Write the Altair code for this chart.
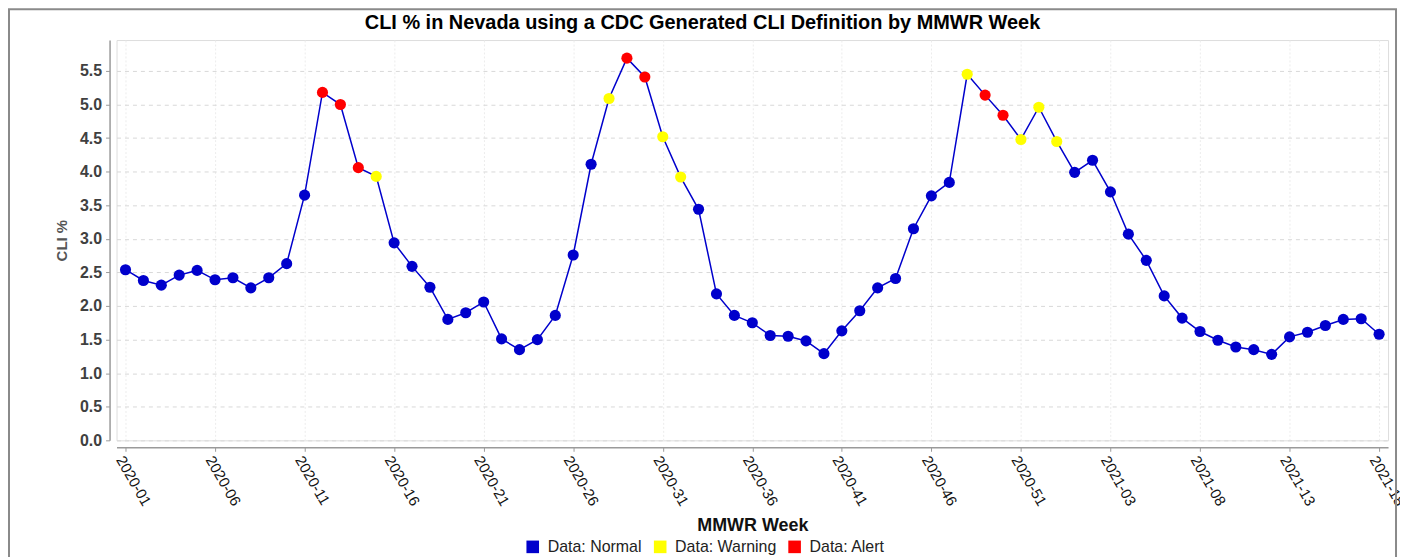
import altair as alt
import pandas as pd

# ---- data ----
years = [2020] * 53 + [2021] * 18
weeks_in_year = list(range(1, 54)) + list(range(1, 19))
week_labels = [f"{y}-{w:02d}" for y, w in zip(years, weeks_in_year)]

cli_values = [
    2.54, 2.38, 2.31, 2.46, 2.53, 2.39, 2.42, 2.27, 2.42, 2.63,
    3.65, 5.18, 5.00, 4.06, 3.93, 2.94, 2.59, 2.28, 1.80, 1.90,
    2.06, 1.51, 1.35, 1.50, 1.86, 2.76, 4.11, 5.09, 5.69, 5.41,
    4.52, 3.92, 3.44, 2.18, 1.86, 1.75, 1.56, 1.55, 1.48, 1.29,
    1.63, 1.93, 2.27, 2.41, 3.15, 3.64, 3.84, 5.45, 5.14, 4.84,
    4.48, 4.96, 4.45, 3.99, 4.17, 3.70, 3.07, 2.68, 2.15, 1.82,
    1.62, 1.49, 1.39, 1.35, 1.28, 1.54, 1.61, 1.71, 1.80, 1.81,
    1.58,
]

status_codes = [
    "N", "N", "N", "N", "N", "N", "N", "N", "N", "N",
    "N", "A", "A", "A", "W", "N", "N", "N", "N", "N",
    "N", "N", "N", "N", "N", "N", "N", "W", "A", "A",
    "W", "W", "N", "N", "N", "N", "N", "N", "N", "N",
    "N", "N", "N", "N", "N", "N", "N", "W", "A", "A",
    "W", "W", "W", "N", "N", "N", "N", "N", "N", "N",
    "N", "N", "N", "N", "N", "N", "N", "N", "N", "N",
    "N",
]
status_names = {"N": "Normal", "W": "Warning", "A": "Alert"}
status_order = ["Normal", "Warning", "Alert"]
status_colors = ["#0000CC", "#FFFF00", "#FF0000"]

tick_labels = week_labels[::5]
y_ticks = [0.0, 0.5, 1.0, 1.5, 2.0, 2.5, 3.0, 3.5, 4.0, 4.5, 5.0, 5.5]

df = pd.DataFrame({
    "week": week_labels,
    "cli": cli_values,
    "status": [status_names[c] for c in status_codes],
})

FONT = "Liberation Sans"

x_enc = alt.X(
    "week:O",
    sort=None,
    scale=alt.Scale(type="point", padding=0.5),
    axis=alt.Axis(
        values=tick_labels,
        title="MMWR Week",
        labelAngle=60,
        labelAlign="left",
        labelBaseline="top",
        labelFontSize=15,
        labelColor="#111111",
        labelFont=FONT,
        labelPadding=2,
        labelOverlap=False,
        titleFontSize=18,
        titleFontWeight="bold",
        titleFont=FONT,
        titleColor="#111111",
        titlePadding=8,
        offset=7,
        grid=True,
        gridColor="#ececec",
        gridDash=[2, 2],
        domainColor="#9a9a9a",
        domainWidth=1.5,
        tickColor="#9a9a9a",
        tickSize=4,
    ),
)
y_enc = alt.Y(
    "cli:Q",
    scale=alt.Scale(domain=[0, 5.96], nice=False, zero=True),
    axis=alt.Axis(
        values=y_ticks,
        format=".1f",
        title="CLI %",
        labelFontSize=16,
        labelFontWeight="bold",
        labelColor="#404040",
        labelFont=FONT,
        labelPadding=4,
        labelOverlap=False,
        titleFontSize=15,
        titleFontWeight="bold",
        titleColor="#555555",
        titleFont=FONT,
        titlePadding=10,
        offset=7,
        grid=True,
        gridColor="#d8d8d8",
        gridDash=[4, 4],
        domainColor="#9a9a9a",
        domainWidth=1.5,
        tickColor="#9a9a9a",
        tickSize=4,
    ),
)

line = alt.Chart(df).mark_line(color="#0000CC", strokeWidth=1.5).encode(x=x_enc, y=y_enc)

points = alt.Chart(df).mark_point(filled=True, shape="circle", size=125, opacity=1).encode(
    x=x_enc,
    y=y_enc,
    color=alt.Color(
        "status:N",
        scale=alt.Scale(domain=status_order, range=status_colors),
        legend=alt.Legend(
            title=None,
            orient="none",
            direction="horizontal",
            legendX=410,
            legendY=501,
            symbolType="square",
            symbolSize=160,
            symbolStrokeWidth=0,
            symbolOpacity=1,
            labelExpr="'Data: ' + datum.label",
            labelFontSize=16,
            labelFont=FONT,
            labelColor="#222222",
            labelOffset=7,
            columnPadding=10,
        ),
    ),
)

frame = alt.Chart(pd.DataFrame({"a": [0]})).mark_rect(
    fillOpacity=0, stroke="#8a8a8a", strokeWidth=2
).encode(
    x=alt.value(-108), x2=alt.value(1285), y=alt.value(-31), y2=alt.value(540)
)

chart = alt.layer(frame, line, points).properties(
    width=1277,
    height=402,
    title=alt.TitleParams(
        "CLI % in Nevada using a CDC Generated CLI Definition by MMWR Week",
        fontSize=20,
        fontWeight="bold",
        font=FONT,
        color="#000000",
        anchor="middle",
        dx=-50,
        dy=35,
        offset=10,
    ),
    autosize=alt.AutoSizeParams(type="none"),
    padding={"left": 109, "top": 31, "right": 12, "bottom": 116},
).configure_view(
    stroke="#555555", strokeWidth=1
).configure(background="white")

chart.save("out.html", embed_options={"renderer": "svg", "actions": False})
